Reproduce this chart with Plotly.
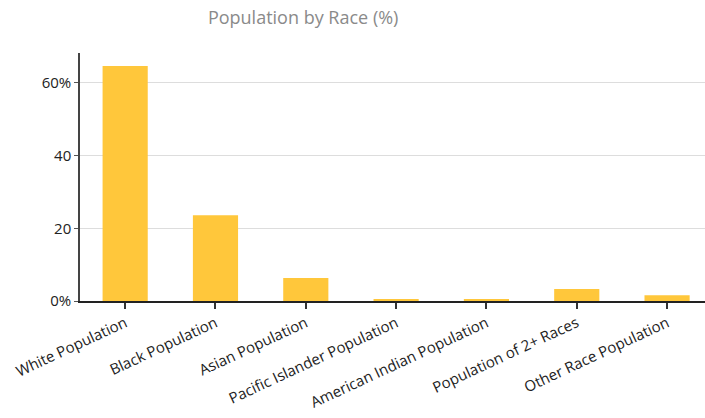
import plotly.graph_objects as go

# Share of population by race (percent)
categories = [
    "White Population",
    "Black Population",
    "Asian Population",
    "Pacific Islander Population",
    "American Indian Population",
    "Population of 2+ Races",
    "Other Race Population",
]
percent = [64.6, 23.6, 6.3, 0.5, 0.5, 3.3, 1.6]

y_tick_vals = [0, 20, 40, 60]
y_tick_text = ["0%", "20", "40", "60%"]

FONT = "Open Sans"

fig = go.Figure(
    go.Bar(
        x=categories,
        y=percent,
        width=0.5,
        marker=dict(color="#FFC73B", line=dict(width=0)),
        hovertemplate="%{x}: %{y}%<extra></extra>",
    )
)

fig.update_layout(
    width=705,
    height=418,
    margin=dict(l=80, r=0, t=53, b=117),
    paper_bgcolor="white",
    plot_bgcolor="white",
    showlegend=False,
    font=dict(family=FONT, size=15, color="#222"),
    title=dict(
        text="Population by Race (%)",
        x=0.43,
        xanchor="center",
        y=0.957,
        yanchor="middle",
        font=dict(family=FONT, size=18, color="#8a8a8a"),
    ),
)

fig.update_xaxes(
    range=[-0.5, 6.42],
    automargin=False,
    tickangle=-25,
    showline=True,
    linecolor="#222",
    linewidth=1.5,
    ticks="outside",
    ticklen=6,
    tickwidth=1.5,
    tickcolor="#333",
    showgrid=False,
    tickfont=dict(family=FONT, size=15, color="#222"),
)

fig.update_yaxes(
    range=[0, 68.2],
    automargin=False,
    tickvals=y_tick_vals,
    ticktext=y_tick_text,
    showline=True,
    linecolor="#444",
    linewidth=1.5,
    ticks="outside",
    ticklen=4,
    tickcolor="#555",
    showgrid=True,
    gridcolor="#dddddd",
    gridwidth=1.2,
    zeroline=False,
    tickfont=dict(family=FONT, size=15, color="#222"),
)

fig.write_html("out.html")
